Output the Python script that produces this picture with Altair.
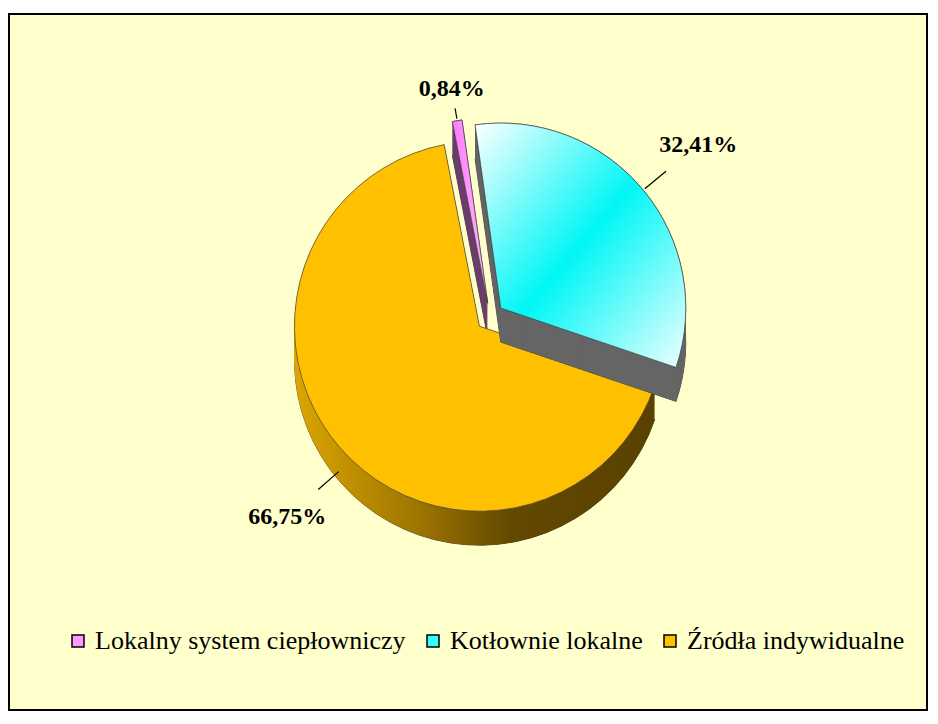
import altair as alt
import pandas as pd

categories = ["Lokalny system ciepłowniczy", "Kotłownie lokalne", "Źródła indywidualne"]
values = [0.84, 32.41, 66.75]
labels = ["0,84%", "32,41%", "66,75%"]
colors = ["#FF99FF", "#33FFFF", "#FFC000"]

df = pd.DataFrame({"cat": categories, "val": values, "lab": labels, "k": list(range(len(categories)))})

# geometry / style constants (view pixels)
CX, CY, R, E, D = 481, 303, 185, 14, 34
ROT = -0.192
FONT = "Liberation Serif"

base = (
    alt.Chart(df)
    .transform_joinaggregate(tot="sum(val)")
    .transform_window(cum="sum(val)", sort=[alt.SortField("k")], frame=[None, 0])
    .transform_calculate(a0=f"(datum.cum - datum.val) / datum.tot * 2 * PI + ({ROT})")
    .transform_calculate(a1=f"datum.cum / datum.tot * 2 * PI + ({ROT})")
    .transform_calculate(mid="(datum.a0 + datum.a1) / 2")
    .transform_calculate(px=f"{CX} + {E} * sin(datum.mid)")
    .transform_calculate(py=f"{CY} - {E} * cos(datum.mid)")
)

theta = alt.Theta("a0:Q", scale=None, stack=None)
theta2 = alt.Theta2("a1:Q")
X = alt.X("px:Q", scale=None, axis=None)

color_enc = alt.Color(
    "cat:N",
    scale=alt.Scale(domain=categories, range=colors),
    legend=alt.Legend(
        title=None,
        orient="none",
        direction="horizontal",
        legendX=56,
        legendY=614,
        labelFont=FONT,
        labelFontSize=26,
    ),
)


def side(cat, fill):
    sub = base.transform_filter(alt.datum.cat == cat)
    bottom = (
        sub.transform_calculate(py2=f"datum.py + {D}")
        .mark_arc(radius=R, fill=fill, stroke="#333333", strokeWidth=0.8)
        .encode(theta=theta, theta2=theta2, x=X, y=alt.Y("py2:Q", scale=None, axis=None))
    )
    body = (
        sub.transform_calculate(ds=f"sequence({D}, -1, -1)")
        .transform_flatten(["ds"])
        .transform_calculate(py2="datum.py + datum.ds")
        .mark_arc(radius=R, fill=fill)
        .encode(theta=theta, theta2=theta2, x=X, y=alt.Y("py2:Q", scale=None, axis=None))
    )
    return [bottom, body]


def top(cat):
    return (
        base.transform_filter(alt.datum.cat == cat)
        .mark_arc(radius=R, stroke="#444444", strokeWidth=0.7, opacity=1)
        .encode(theta=theta, theta2=theta2, x=X, y=alt.Y("py:Q", scale=None, axis=None), color=color_enc)
    )


orange_side = alt.LinearGradient(
    gradient="linear", x1=0, y1=0, x2=1, y2=0,
    stops=[
        alt.GradientStop(color="#DCA600", offset=0),
        alt.GradientStop(color="#9C7400", offset=0.35),
        alt.GradientStop(color="#634800", offset=0.6),
        alt.GradientStop(color="#5A4100", offset=1),
    ],
)
cyan_top = alt.LinearGradient(
    gradient="linear", x1=0, y1=0, x2=1, y2=1,
    stops=[
        alt.GradientStop(color="#FFFFFF", offset=0),
        alt.GradientStop(color="#00F6F6", offset=0.5),
        alt.GradientStop(color="#EEFFFF", offset=1),
    ],
)
pink_top = alt.LinearGradient(
    gradient="linear", x1=0, y1=0, x2=1, y2=0,
    stops=[
        alt.GradientStop(color="#FF77FF", offset=0),
        alt.GradientStop(color="#FFBBFF", offset=1),
    ],
)

cyan_grad = (
    base.transform_filter(alt.datum.cat == categories[1])
    .mark_arc(radius=R, fill=cyan_top, stroke="#444444", strokeWidth=0.7)
    .encode(theta=theta, theta2=theta2, x=X, y=alt.Y("py:Q", scale=None, axis=None))
)
pink_grad = (
    base.transform_filter(alt.datum.cat == categories[0])
    .mark_arc(radius=R, fill=pink_top, stroke="#444444", strokeWidth=0.7)
    .encode(theta=theta, theta2=theta2, x=X, y=alt.Y("py:Q", scale=None, axis=None))
)

lab = (
    base.transform_calculate(s="sin(datum.mid)")
    .transform_calculate(c="cos(datum.mid)")
    .transform_calculate(rl=f"{R + E + 22} + 64 * abs(datum.s)")
    .transform_calculate(dy=f"{D} * max(0, -datum.c)")
    .transform_calculate(r1=f"{R + E + 2}")
    .transform_calculate(r2="datum.rl - 14 - 36 * abs(datum.s)")
    .transform_calculate(tx=f"{CX} + datum.rl * datum.s")
    .transform_calculate(ty=f"{CY} - datum.rl * datum.c + datum.dy")
    .transform_calculate(lx1=f"{CX} + datum.r1 * datum.s")
    .transform_calculate(ly1=f"{CY} - datum.r1 * datum.c + datum.dy")
    .transform_calculate(lx2=f"{CX} + datum.r2 * datum.s")
    .transform_calculate(ly2=f"{CY} - datum.r2 * datum.c + datum.dy")
)

leaders = lab.mark_rule(color="black", strokeWidth=1.2).encode(
    x=alt.X("lx1:Q", scale=None, axis=None),
    y=alt.Y("ly1:Q", scale=None, axis=None),
    x2="lx2:Q",
    y2="ly2:Q",
)
texts = lab.mark_text(
    font=FONT, fontSize=24, fontWeight="bold", color="black", align="center", baseline="middle"
).encode(
    x=alt.X("tx:Q", scale=None, axis=None),
    y=alt.Y("ty:Q", scale=None, axis=None),
    text="lab:N",
)

layers = []
layers += side(categories[0], "#6B3F6B")
layers += [top(categories[0]), pink_grad]
layers += side(categories[2], orange_side)
layers += [top(categories[2])]
layers += side(categories[1], "#666666")
layers += [top(categories[1]), cyan_grad]
layers += [leaders, texts]

chart = (
    alt.layer(*layers)
    .properties(
        width=918,
        height=696,
        autosize=alt.AutoSizeParams(type="none"),
        padding={"left": 1, "top": 6, "right": 1, "bottom": 1},
        background="white",
    )
    .configure(font=FONT)
    .configure_view(fill="#FFFFCC", stroke="black", strokeWidth=2)
    .configure_legend(
        symbolType="square",
        symbolSize=144,
        symbolStrokeColor="black",
        symbolStrokeWidth=1.5,
        symbolOpacity=1,
        labelFont=FONT,
        labelFontSize=26,
        labelColor="black",
        labelOffset=4,
        columnPadding=14,
        labelLimit=420,
    )
)

chart.save("out.html", embed_options={"renderer": "svg", "actions": False})
